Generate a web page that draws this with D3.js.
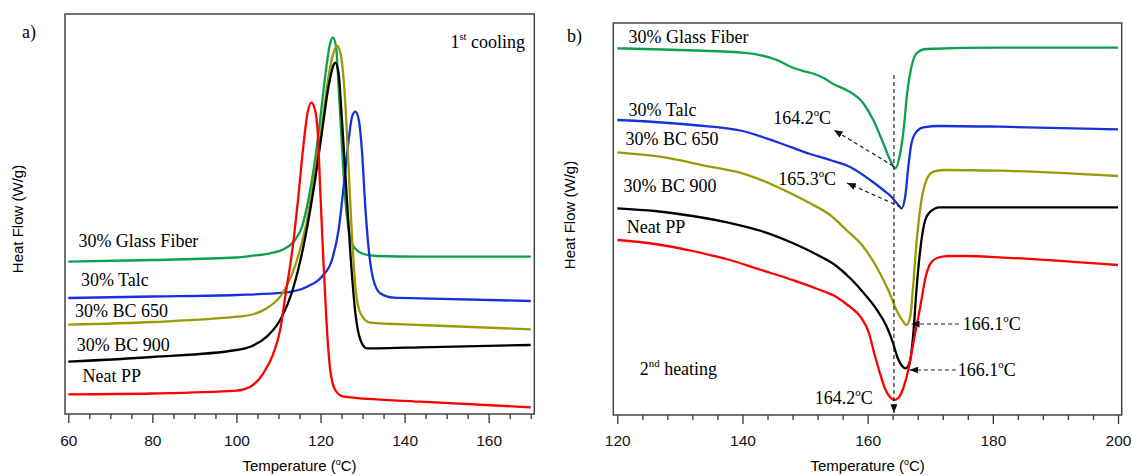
<!DOCTYPE html>
<html>
<head>
<meta charset="utf-8">
<script src="https://cdn.jsdelivr.net/npm/d3@7/dist/d3.min.js"></script>
<style>
  body { margin: 0; background: #fff; }
  .serif { font-family: "Liberation Serif", "Times New Roman", serif; }
  .sans { font-family: "Liberation Sans", Arial, sans-serif; }
  .tick line { stroke: #333; stroke-width: 1.3; }
</style>
</head>
<body>
<svg id="chart" width="1132" height="476"></svg>
<script>
// series names, top to bottom
const seriesNames = ["30% Glass Fiber", "30% Talc", "30% BC 650", "30% BC 900", "Neat PP"];

// a) 1st cooling : [temperature (C), heat flow (a.u., offset)]
const coolGlassFiber = [[60,15.23],[80,15.4],[100,15.65],[103.3,15.8],[108,16.07],[111.2,16.47],[113.6,17.23],[115.6,18.73],[117.1,21.4],[118.7,25.4],[119.9,29.4],[121.1,33.73],[122.3,37.07],[122.9,37.67],[123.7,36.73],[124.3,32.73],[125.1,26.73],[125.9,21.4],[126.7,18.4],[127.9,16.73],[130.2,16.0],[133.4,15.8],[143.7,15.73],[170,15.73]];
const coolTalc = [[60,11.6],[80,11.75],[100,11.9],[111.2,12.13],[116.8,12.73],[120.3,13.73],[122.7,15.4],[124.3,18.4],[125.5,22.73],[126.7,27.4],[127.5,29.73],[128.3,30.23],[129.1,29.4],[129.9,26.07],[130.6,21.07],[131.4,16.73],[132.6,13.4],[134.2,12.07],[137.4,11.63],[143.7,11.57],[170,11.3]];
const coolBC650 = [[60,8.93],[80,9.2],[100,9.73],[103.3,9.9],[107.2,10.57],[111.2,12.23],[114.4,15.4],[116.8,19.4],[118.7,24.4],[120.3,28.73],[121.9,33.73],[123.5,36.57],[124,36.8],[124.9,35.73],[125.9,31.07],[126.7,24.4],[127.5,17.73],[128.3,12.73],[129.5,10.07],[131.8,9.13],[143.7,8.9],[170,8.47]];
const coolBC900 = [[60,5.23],[80,5.7],[100,6.4],[103.3,6.73],[107.2,7.73],[110.4,9.4],[113.6,12.73],[116.4,17.73],[118.7,23.4],[120.3,28.07],[121.9,32.73],[123.1,34.9],[123.5,35.13],[124.3,34.07],[125.1,29.4],[126.1,22.73],[127.1,16.07],[128.3,10.07],[129.5,7.4],[131,6.57],[133.4,6.57],[143.7,6.67],[170,6.9]];
const coolNeatPP = [[60,1.97],[80,2.05],[100,2.33],[103.3,2.73],[106.4,4.07],[108.8,6.07],[110.4,8.4],[111.6,11.73],[113.4,16.73],[114.8,22.07],[115.9,26.73],[116.9,30.07],[117.8,31.13],[118.7,30.4],[119.4,27.73],[119.9,22.73],[120.6,16.07],[121.4,9.4],[122.3,4.4],[123.5,2.4],[125.5,1.73],[143.7,1.23],[170,0.67]];

// b) 2nd heating
const heatGlassFiber = [[120,36.67],[130,36.5],[140,36.23],[145.5,35.5],[147.6,34.85],[148.6,34.6],[150,34.35],[151.5,34.1],[153,33.7],[154.5,33.1],[156.6,32.5],[159.3,31.17],[160.9,29.5],[162.5,27.17],[163.6,25.5],[164.4,24.67],[165.2,26.17],[165.8,28.83],[166.3,32.17],[167,34.83],[167.8,36.17],[169.4,36.6],[181.1,36.73],[200,36.73]];
const heatTalc = [[120,29.5],[126,29.3],[132.1,29.0],[140,28.4],[145.5,27.3],[150.8,26.1],[154,25.5],[157.2,24.8],[160.4,23.5],[162.5,22.5],[163.8,21.83],[164.9,21.0],[165.4,20.67],[166,21.83],[166.5,24.83],[167,27.17],[167.8,28.33],[168.9,28.77],[171.5,28.9],[181.1,28.83],[200,28.57]];
const heatBC650 = [[120,26.27],[126.8,25.83],[134.8,24.83],[140,24.17],[145.5,22.83],[150.8,21.17],[154,20.0],[156.6,18.5],[159.3,16.83],[161.4,14.83],[163.3,12.5],[164.6,10.5],[165.7,9.33],[166.2,9.0],[166.8,9.83],[167.3,13.17],[167.8,17.17],[168.6,21.5],[169.4,23.5],[170.5,24.33],[172.1,24.5],[181.1,24.43],[200,23.9]];
const heatBC900 = [[120,20.67],[126,20.4],[132,19.9],[138,19.2],[143,18.4],[148,17.2],[152,16.0],[155,14.9],[157.5,13.5],[159.5,12.1],[161.5,10.5],[163,8.9],[164,7.3],[164.8,5.7],[165.5,4.9],[166.1,4.67],[166.8,5.5],[167.3,8.17],[167.8,12.5],[168.4,16.5],[169.2,19.5],[170,20.33],[171.5,20.77],[181,20.77],[200,20.77]];
const heatNeatPP = [[120,17.5],[126,17.1],[132,16.4],[138,15.5],[143,14.5],[148,13.5],[152,12.6],[155,11.8],[157,10.9],[159,9.7],[160.2,8.2],[161,6.3],[161.9,4.3],[162.8,2.6],[163.7,1.7],[164.2,1.5],[164.9,1.7],[165.7,2.7],[166.5,4.5],[167.3,7.2],[168.4,10.8],[169.3,13.9],[170.2,15.3],[171.3,15.75],[173,15.9],[176,15.9],[181,15.77],[200,15.0]];

// peak temperatures marked in b)
const peakTemps = ["164.2", "165.3", "166.1", "166.1", "164.2"];

const colors = ["#0c9f4f", "#1432dc", "#9a9a05", "#000000", "#ff0000"];

const svg = d3.select("svg#chart");
const serifSize = 18;

// arrow marker
svg.append("defs").append("marker")
  .attr("id", "arrow")
  .attr("viewBox", "0 0 10 8")
  .attr("refX", 10).attr("refY", 4)
  .attr("markerWidth", 9).attr("markerHeight", 7)
  .attr("markerUnits", "userSpaceOnUse")
  .attr("orient", "auto")
  .append("path").attr("d", "M0,0L10,4L0,8Z").attr("fill", "#111");

// text with superscript parts: [[text, isSup], ...]
function richText(sel, parts, size) {
  const lift = size * 0.42;
  let up = false;
  parts.forEach(([s, sup]) => {
    const t = sel.append("tspan").text(s);
    if (sup) {
      t.attr("dy", -lift).attr("font-size", size * 0.6);
      up = true;
    } else if (up) {
      t.attr("dy", lift);
      up = false;
    }
  });
  return sel;
}

function makePanel(cfg) {
  const g = svg.append("g").attr("transform", `translate(${cfg.left}, ${cfg.top})`);
  const x = d3.scaleLinear().domain(cfg.xDomain).range([cfg.xPad[0], cfg.width - cfg.xPad[1]]);
  const y = d3.scaleLinear().domain(cfg.yDomain).range([cfg.height, 0]);

  // minor ticks
  g.append("g")
    .attr("transform", `translate(0, ${cfg.height})`)
    .call(d3.axisBottom(x).tickValues(cfg.minors.filter(v => !cfg.majors.includes(v))).tickSize(5).tickFormat(""))
    .call(a => a.select(".domain").remove());

  // major ticks + labels
  g.append("g")
    .attr("transform", `translate(0, ${cfg.height})`)
    .call(d3.axisBottom(x).tickValues(cfg.majors).tickSize(9).tickPadding(cfg.padding).tickFormat(d3.format("d")))
    .call(a => a.select(".domain").remove())
    .call(a => a.selectAll("text")
      .attr("font-size", 15.5)
      .attr("font-family", "Liberation Sans, Arial, sans-serif")
      .attr("fill", "#111"));

  // frame
  g.append("rect")
    .attr("width", cfg.width).attr("height", cfg.height)
    .attr("fill", "none").attr("stroke", "#444").attr("stroke-width", 1.5);

  const line = d3.line()
    .x(d => x(d[0]))
    .y(d => y(d[1]))
    .curve(d3.curveMonotoneX);

  cfg.series.forEach((s, i) => {
    g.append("path")
      .datum(s)
      .attr("fill", "none")
      .attr("stroke", colors[i])
      .attr("stroke-width", 2.3)
      .attr("stroke-linejoin", "round")
      .attr("d", line);
  });

  // series labels
  g.selectAll(".lbl")
    .data(seriesNames)
    .enter().append("text")
    .attr("class", "serif")
    .attr("font-size", serifSize)
    .attr("x", (d, i) => x(cfg.labelPos[i][0]))
    .attr("y", (d, i) => y(cfg.labelPos[i][1]))
    .text(d => d);

  // axis titles
  richText(svg.append("text")
    .attr("class", "sans").attr("font-size", 15).attr("text-anchor", "middle")
    .attr("x", cfg.left + (x.range()[0] + x.range()[1]) / 2)
    .attr("y", 471), [["Temperature (", false], ["o", true], ["C)", false]], 15);

  svg.append("text")
    .attr("class", "sans").attr("font-size", 15).attr("text-anchor", "middle")
    .attr("transform", `translate(${cfg.yTitleX}, ${cfg.yTitleY}) rotate(-90)`)
    .text("Heat Flow (W/g)");

  svg.append("text")
    .attr("class", "serif").attr("font-size", serifSize)
    .attr("x", cfg.tagX).attr("y", cfg.tagY)
    .text(cfg.tag);

  return { g, x, y };
}

// ---- a) 1st cooling
const a = makePanel({
  left: 65, top: 14, width: 469.3, height: 400,
  xDomain: [60, 170], xPad: [3.3, 3.6], yDomain: [0, 40],
  majors: d3.range(60, 161, 20), minors: d3.range(60, 171, 5), padding: 12,
  series: [coolGlassFiber, coolTalc, coolBC650, coolBC900, coolNeatPP],
  labelPos: [[62.4, 16.7], [63.0, 12.8], [61.6, 9.73], [62.0, 6.33], [63.4, 3.17]],
  yTitleX: 23, yTitleY: 219, tag: "a)", tagX: 22, tagY: 38
});

richText(a.g.append("text")
  .attr("class", "serif").attr("font-size", serifSize)
  .attr("x", a.x(150.9)).attr("y", 34),
  [["1", false], ["st", true], [" cooling", false]], serifSize);

// ---- b) 2nd heating
const b = makePanel({
  left: 613.3, top: 23, width: 508.4, height: 392,
  xDomain: [120, 200], xPad: [4, 3.7], yDomain: [0, 39.2],
  majors: d3.range(120, 201, 20), minors: d3.range(120, 201, 4), padding: 10.5,
  series: [heatGlassFiber, heatTalc, heatBC650, heatBC900, heatNeatPP],
  labelPos: [[121.8, 37.2], [121.8, 29.9], [121.3, 27.0], [121.0, 22.33], [121.5, 18.17]],
  yTitleX: 575, yTitleY: 215, tag: "b)", tagX: 567, tagY: 42
});

richText(b.g.append("text")
  .attr("class", "serif").attr("font-size", serifSize)
  .attr("x", b.x(123.6)).attr("y", b.y(4.0)),
  [["2", false], ["nd", true], [" heating", false]], serifSize);

// vertical dashed reference at the neat PP peak
const dash = "4,3";
b.g.append("line")
  .attr("x1", b.x(164.2)).attr("x2", b.x(164.2))
  .attr("y1", b.y(34)).attr("y2", b.y(0.2))
  .attr("stroke", "#222").attr("stroke-width", 1.2)
  .attr("stroke-dasharray", dash)
  .attr("marker-end", "url(#arrow)");

// peak annotations: arrow from, arrow to, label position, anchor
const notes = [
  { from: [164.1, 24.9], to: [154.6, 28.5], at: [144.9, 29.1], anchor: "start" },
  { from: [165.3, 20.8], to: [156.7, 23.2], at: [145.7, 23.0], anchor: "start" },
  { from: [174.6, 9.1],  to: [166.9, 9.1],  at: [175.2, 8.5],  anchor: "start" },
  { from: [174.1, 4.5],  to: [166.7, 4.5],  at: [174.4, 3.9],  anchor: "start" },
  { from: null,          to: null,          at: [160.8, 1.1],  anchor: "end" }
];

notes.forEach((n, i) => {
  if (n.from) {
    b.g.append("line")
      .attr("x1", b.x(n.from[0])).attr("y1", b.y(n.from[1]))
      .attr("x2", b.x(n.to[0])).attr("y2", b.y(n.to[1]))
      .attr("stroke", "#222").attr("stroke-width", 1.2)
      .attr("stroke-dasharray", dash)
      .attr("marker-end", "url(#arrow)");
  }
  richText(b.g.append("text")
    .attr("class", "serif").attr("font-size", serifSize)
    .attr("text-anchor", n.anchor)
    .attr("x", b.x(n.at[0])).attr("y", b.y(n.at[1])),
    [[peakTemps[i], false], ["o", true], ["C", false]], serifSize);
});
</script>
</body>
</html>
